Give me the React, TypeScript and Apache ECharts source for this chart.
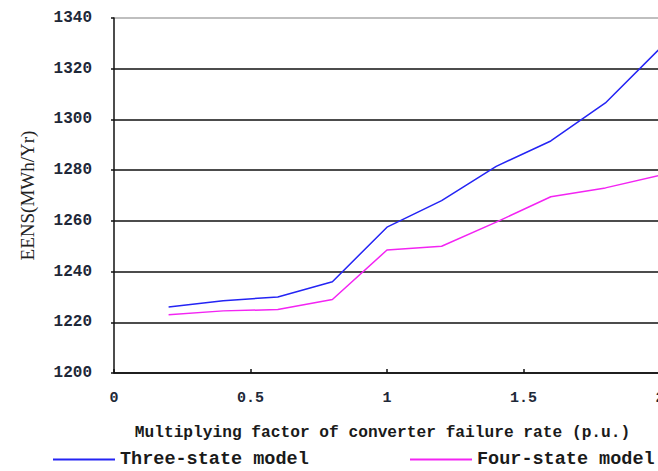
import React, { useEffect, useRef } from "react";
import * as echarts from "echarts";

const xValues = [0.2, 0.4, 0.6, 0.8, 1.0, 1.2, 1.4, 1.6, 1.8, 2.0];
const threeState = [1226, 1228.5, 1230, 1236, 1257.5, 1268, 1281.5, 1291.5, 1306.5, 1328];
const fourState = [1223, 1224.5, 1225, 1229, 1248.5, 1250, 1259.5, 1269.5, 1273, 1278];
const seriesNames = ["Three-state model", "Four-state model"];
const seriesColors = ["#2424f4", "#f324f3"];

const mono = "Liberation Mono";
const serif = "Liberation Serif";

export default function App() {
  const ref = useRef<HTMLDivElement>(null);
  useEffect(() => {
    if (!ref.current) return;
    const chart = echarts.init(ref.current, undefined, { renderer: "svg" });
    const gridColors = ["#111", "#111", "#111", "#111", "#111", "#111", "#111", "#aaa"];
    const legendBase = {
      top: 450,
      itemWidth: 62,
      itemHeight: 2,
      icon: "rect",
      padding: 0,
      textStyle: { fontFamily: mono, fontSize: 18.5, fontWeight: "bold", color: "#1a1a1a" },
    };
    chart.setOption({
      animation: false,
      backgroundColor: "#fff",
      grid: { left: 114, top: 18, width: 546, height: 355, containLabel: false, outerBoundsMode: "none" },
      legend: [
        { ...legendBase, left: 53, data: [seriesNames[0]] },
        { ...legendBase, left: 410, data: [seriesNames[1]] },
      ],
      xAxis: {
        type: "value",
        min: 0,
        max: 2,
        interval: 0.5,
        name: "Multiplying factor of converter failure rate (p.u.)",
        nameLocation: "middle",
        nameGap: 52,
        nameTextStyle: { fontFamily: mono, fontSize: 16.2, fontWeight: "bold", color: "#1a1a1a", padding: [0, 9, 0, 0] },
        axisLine: { show: true, lineStyle: { color: "#111", width: 1.5 } },
        axisTick: { show: true, inside: true, length: 4, lineStyle: { color: "#111", width: 1.5 } },
        axisLabel: { fontFamily: mono, fontSize: 15, fontWeight: "bold", color: "#1e2838", margin: 18, formatter: (v: number) => String(v) },
        splitLine: { show: false },
      },
      yAxis: {
        type: "value",
        min: 1200,
        max: 1340,
        interval: 20,
        name: "EENS(MWh/Yr)",
        nameLocation: "middle",
        nameGap: 77,
        nameTextStyle: { fontFamily: serif, fontSize: 19, color: "#222" },
        axisLine: { show: true, lineStyle: { color: "#111", width: 1.5 } },
        axisTick: { show: true, length: 3, lineStyle: { color: "#111", width: 1.5 } },
        axisLabel: { fontFamily: mono, fontSize: 16, fontWeight: "bold", color: "#1e2838", margin: 22, formatter: (v: number) => String(v) },
        splitLine: { show: true, lineStyle: { color: gridColors, width: 1.5 } },
      },
      series: [
        {
          name: seriesNames[0],
          type: "line",
          data: xValues.map((x, i) => [x, threeState[i]]),
          symbol: "none",
          lineStyle: { color: seriesColors[0], width: 1.5 },
          itemStyle: { color: seriesColors[0] },
        },
        {
          name: seriesNames[1],
          type: "line",
          data: xValues.map((x, i) => [x, fourState[i]]),
          symbol: "none",
          lineStyle: { color: seriesColors[1], width: 1.5 },
          itemStyle: { color: seriesColors[1] },
        },
      ],
    });
    return () => chart.dispose();
  }, []);
  return (
    <div
      ref={ref}
      style={{ position: "absolute", left: 0, top: 0, width: 658, height: 471 }}
    />
  );
}
